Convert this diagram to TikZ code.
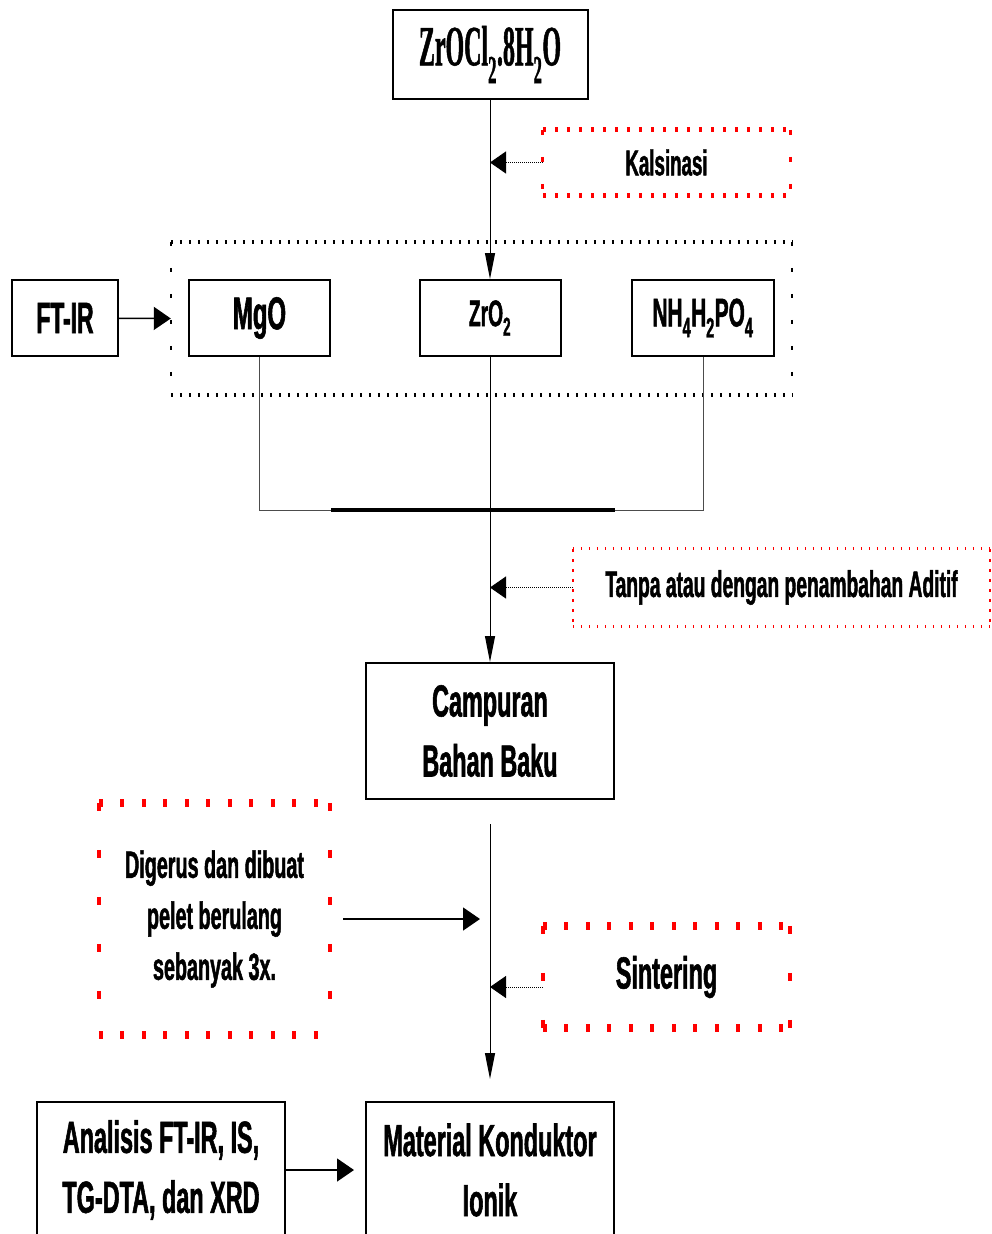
\documentclass[tikz,border=0pt]{standalone}
\usepackage{fontspec}
\newfontfamily\narsans{Liberation Sans}[FakeStretch=0.52, FakeBold=1.2]
\newfontfamily\narserif{Liberation Serif}[FakeStretch=0.42, FakeBold=0.8]
\usetikzlibrary{arrows.meta,positioning}

\begin{document}
\begin{tikzpicture}[x=1pt, y=-1pt,
    box/.style={rectangle, draw, line width=2pt, fill=white, inner sep=0pt, align=center, font=\narsans\bfseries\fontsize{45}{60}\selectfont},
    note/.style={rectangle, inner sep=0pt, align=center, font=\narsans\bfseries\fontsize{#1}{51}\selectfont},
    dots/.style n args={3}{line width=#1, dash pattern=on #2 off #3},
    vline/.style={draw, line width=1pt, -{Triangle[length=26pt, width=10pt]}},
    harrow/.style={draw, line width=1.5pt, -{Triangle[length=17pt, width=23pt]}},
    dotarrow/.style={draw, line width=1pt, dash pattern=on 1pt off 1pt, -{Triangle[length=16pt, width=22pt]}}]

    \fill[white] (0,0) rectangle (991,1234);
    \useasboundingbox (0,0) rectangle (991,1234);
    \clip (0,0) rectangle (991,1234);

    \node [box, minimum width=195pt, minimum height=89pt, font=\narserif\bfseries\fontsize{57}{60}\selectfont] (zrocl) at (490,54.5) {ZrOCl\textsubscript{2}.8H\textsubscript{2}O};
    \node [note=36, minimum width=247pt, minimum height=65pt] (kals) at (666.5,162.5) {Kalsinasi};
    \node [note=36, minimum width=621pt, minimum height=153pt] (grp) at (481.5,318.5) {};
    \node [box, minimum width=106pt, minimum height=76pt, font=\narsans\bfseries\fontsize{44}{50}\selectfont] (ftir) at (65,318) {FT-IR};
    \node [box, minimum width=141pt, minimum height=76pt, font=\narsans\bfseries\fontsize{46}{50}\selectfont] (mgo) at (259.5,318) {MgO};
    \node [box, minimum width=141pt, minimum height=76pt, font=\narsans\bfseries\fontsize{37}{50}\selectfont] (zro2) at (490,318) {ZrO\textsubscript{2}};
    \node [box, minimum width=142pt, minimum height=76pt, font=\narsans\bfseries\fontsize{40}{50}\selectfont] (nh4) at (703,318) {NH\textsubscript{4}H\textsubscript{2}PO\textsubscript{4}};
    \node [note=37, minimum width=417pt, minimum height=77pt] (tanpa) at (781.5,587.5) {Tanpa atau dengan penambahan Aditif};
    \node [box, minimum width=248pt, minimum height=136pt] (camp) at (490,731) {Campuran\\Bahan Baku};
    \node [note=38, minimum width=231pt, minimum height=232pt] (dig) at (214.5,919) {Digerus dan dibuat\\pelet berulang\\sebanyak 3x.};
    \node [note=45, minimum width=247pt, minimum height=102pt] (sint) at (666.5,977) {Sintering};
    \node [box, minimum width=248pt, minimum height=136pt] (anal) at (161,1170) {Analisis FT-IR, IS,\\TG-DTA, dan XRD};
    \node [box, minimum width=248pt, minimum height=136pt] (mat) at (490,1170) {Material Konduktor\\Ionik};
    \coordinate (join) at (490,510);

    \draw [red, dots={5pt}{2.7pt}{9.3pt}] (kals.north west) -- (kals.north east) (kals.south west) -- (kals.south east);
    \draw [red, dots={2.7pt}{5pt}{22pt}] (kals.north west) -- (kals.south west) (kals.north east) -- (kals.south east);
    \draw [dots={4pt}{2pt}{7pt}] (grp.north west) -- (grp.north east) (grp.south west) -- (grp.south east);
    \draw [dots={2pt}{4pt}{22pt}] (grp.north west) -- (grp.south west) (grp.north east) -- (grp.south east);
    \draw [red, dots={3pt}{1.5pt}{6.5pt}] (tanpa.north west) -- (tanpa.north east) (tanpa.south west) -- (tanpa.south east);
    \draw [red, dots={1.5pt}{3pt}{7pt}] (tanpa.north west) -- (tanpa.south west) (tanpa.north east) -- (tanpa.south east);
    \draw [red, dots={8pt}{4pt}{17.5pt}] (dig.north west) -- (dig.north east) (dig.south west) -- (dig.south east);
    \draw [red, dots={4pt}{8pt}{39pt}] (dig.north west) -- (dig.south west) (dig.north east) -- (dig.south east);
    \draw [red, dots={8pt}{4pt}{17.5pt}] (sint.north west) -- (sint.north east) (sint.south west) -- (sint.south east);
    \draw [red, dots={4pt}{8pt}{39pt}] (sint.north west) -- (sint.south west) (sint.north east) -- (sint.south east);

    \draw [line width=1pt, black!70] (mgo) -- (mgo |- join) -- (nh4 |- join) -- (nh4);
    \draw [line width=3.5pt] (mgo.east |- join) -- (camp.east |- join);
    \draw [vline] (zrocl) -- (zro2);
    \draw [vline] (zro2) -- (camp);
    \draw [vline, shorten <=24pt, shorten >=22pt] (camp) -- (mat);
    \draw [dotarrow] (kals.west) -- (kals.west -| zro2);
    \draw [dotarrow] (tanpa.west) -- (tanpa.west -| camp);
    \draw [dotarrow] ([yshift=-10pt]sint.west) -- ([yshift=-10pt]sint.west -| camp);
    \draw [harrow] (ftir) -- (grp.west);
    \draw [harrow, shorten <=13pt, shorten >=10pt] (dig) -- (dig -| camp);
    \draw [harrow, shorten >=11pt] (anal) -- (mat);
\end{tikzpicture}
\end{document}
